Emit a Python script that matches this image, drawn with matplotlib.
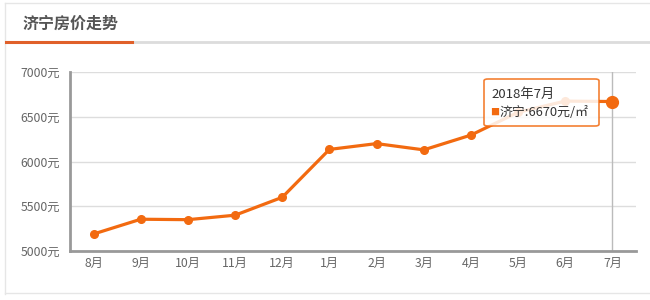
import matplotlib.pyplot as plt
from matplotlib.patches import FancyBboxPatch
from matplotlib.lines import Line2D

plt.rcParams['font.family'] = ['Noto Sans CJK SC', 'DejaVu Sans']

# data
months = ['8月', '9月', '10月', '11月', '12月', '1月', '2月', '3月', '4月', '5月', '6月', '7月']
prices = [5190, 5355, 5350, 5400, 5600, 6135, 6200, 6130, 6295, 6550, 6675, 6670]
yticks = [5000, 5500, 6000, 6500, 7000]
title = '济宁房价走势'
tip_date = '2018年7月'
tip_city = '济宁'

orange = '#f26a10'
grey_txt = '#666666'

fig = plt.figure(figsize=(6.5, 3), dpi=100)

# frame and title strip
fig.add_artist(Line2D([0.008, 1], [0.99, 0.99], color='#e6e6e6', lw=1))
fig.add_artist(Line2D([0.008, 0.008], [0.99, 0.02], color='#e6e6e6', lw=1))
fig.add_artist(Line2D([0.008, 1], [0.023, 0.023], color='#e6e6e6', lw=1))
fig.add_artist(Line2D([0.2, 1], [0.861, 0.861], color='#dcdcdc', lw=2))
fig.add_artist(Line2D([0.009, 0.203], [0.861, 0.861], color='#e0602a', lw=2.2))
fig.text(0.034, 0.92, title, fontsize=11.5, fontweight='bold', color='#555555', va='center')

ax = fig.add_axes([70 / 650, 1 - 251 / 300, 566 / 650, 179 / 300])
x = list(range(len(months)))
ax.plot(x, prices, color=orange, lw=2.3, marker='o', ms=5.5, zorder=3)
ax.plot(x[-1], prices[-1], 'o', color=orange, ms=8.5, zorder=4)

ax.set_xlim(-0.5, 11.5)
ax.set_ylim(5000, 7000)
ax.set_yticks(yticks)
ax.set_yticklabels([f'{v}元' for v in yticks])
ax.set_xticks(x)
ax.set_xticklabels(months)
ax.tick_params(length=0, labelsize=8.8, colors=grey_txt, pad=4)
ax.tick_params(axis='y', pad=7)
ax.grid(axis='y', color='#dddddd', lw=1)
ax.set_axisbelow(True)
for s in ['top', 'right']:
    ax.spines[s].set_visible(False)
for s in ['left', 'bottom']:
    ax.spines[s].set_color('#999999')
    ax.spines[s].set_linewidth(2)

# crosshair on the last month
ax.axvline(x[-1], color='#bbbbbb', lw=1, zorder=2)

# tooltip
box = FancyBboxPatch((484 / 650, 1 - 126 / 300), 115 / 650, 47 / 300,
                     boxstyle='round,pad=0,rounding_size=0.006',
                     transform=fig.transFigure, facecolor='white', alpha=0.85,
                     edgecolor=orange, lw=1.2, zorder=5)
fig.add_artist(box)
fig.text(491 / 650, 1 - 94 / 300, tip_date, fontsize=9.5, color='#333333', va='center', zorder=6)
fig.text(490 / 650, 1 - 112 / 300, '■', fontsize=6.5, color=orange, va='center', zorder=6)
fig.text(499 / 650, 1 - 112 / 300, f'{tip_city}:{prices[-1]}元/㎡', fontsize=9.3,
         color='#333333', va='center', zorder=6)

fig.savefig('out.png', dpi=100)
